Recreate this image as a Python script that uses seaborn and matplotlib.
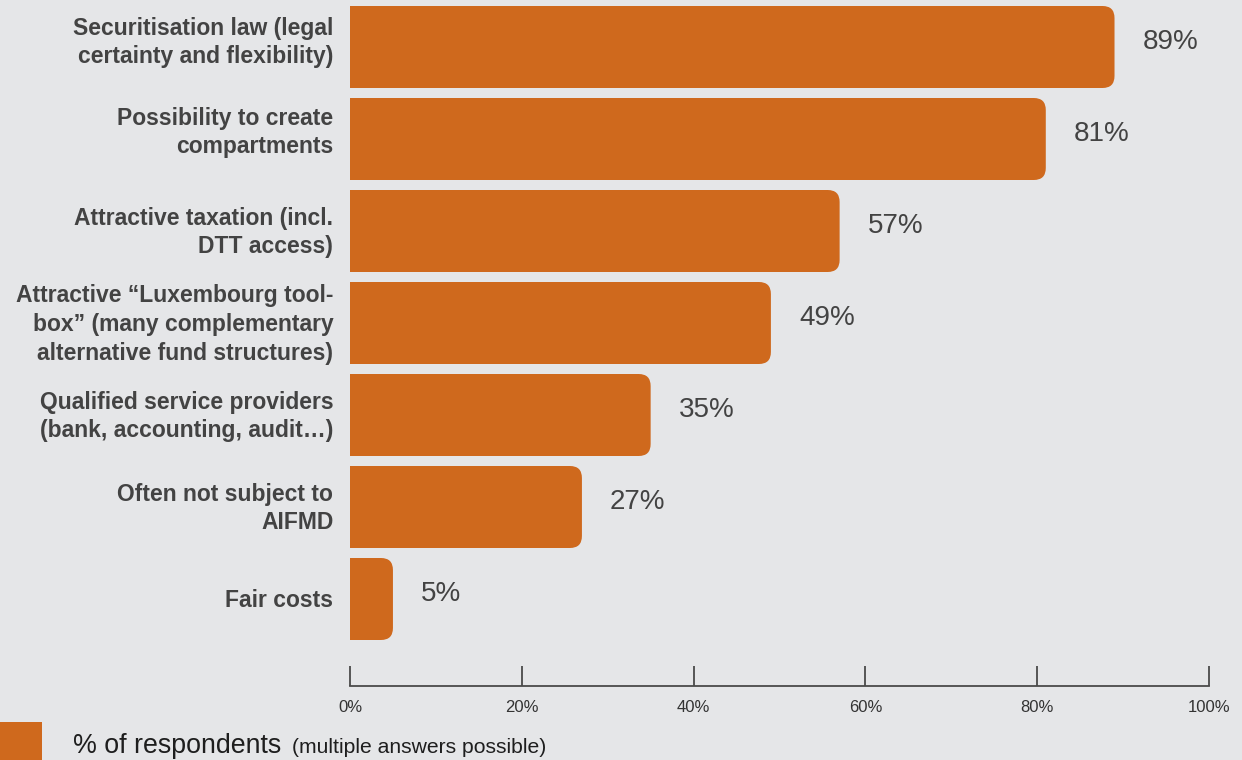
import matplotlib
matplotlib.use("Agg")
import matplotlib.pyplot as plt
import matplotlib.transforms as mtransforms
import seaborn as sns
import pandas as pd
from matplotlib.patches import FancyBboxPatch, Rectangle

categories = [
    "Securitisation law (legal\ncertainty and flexibility)",
    "Possibility to create\ncompartments",
    "Attractive taxation (incl.\nDTT access)",
    "Attractive \u201cLuxembourg tool-\nbox\u201d (many complementary\nalternative fund structures)",
    "Qualified service providers\n(bank, accounting, audit\u2026)",
    "Often not subject to\nAIFMD",
    "Fair costs",
]
values = [89, 81, 57, 49, 35, 27, 5]
tick_values = [0, 20, 40, 60, 80, 100]
tick_labels = ["0%", "20%", "40%", "60%", "80%", "100%"]

BG = "#e5e6e8"
BAR = "#cf691d"
TXT = "#434343"

sns.set_theme(style="white")
plt.rcParams["font.family"] = ["Liberation Sans", "DejaVu Sans"]

W, H = 1242, 760
fig = plt.figure(figsize=(W / 100, H / 100), dpi=100, facecolor=BG)
ax = fig.add_axes([350 / W, (H - 686) / H, 859 / W, 686 / H])
ax.set_facecolor(BG)

df = pd.DataFrame({"cat": categories, "val": values})
sns.barplot(data=df, x="val", y="cat", orient="h", color=BAR, width=82 / 92,
            saturation=1, ax=ax)

ax.set_xlim(0, 100)
ax.set_ylim(639 / 92, -47 / 92)

# rounded right corners
xpp = 100 / 859
ypp = 1 / 92
r_px = 12
for p in list(ax.patches):
    x0, y0 = p.get_x(), p.get_y()
    w, h = p.get_width(), p.get_height()
    p.set_visible(False)
    fb = FancyBboxPatch((x0 - 3, y0), w + 3, h,
                        boxstyle=f"round,pad=0,rounding_size={r_px * xpp}",
                        mutation_aspect=ypp / xpp,
                        facecolor=BAR, edgecolor="none", clip_on=True)
    ax.add_patch(fb)

for i, v in enumerate(values):
    ax.text(v + 28 * xpp, i - 5 * ypp, f"{v}%", va="center", ha="left",
            fontsize=20, color=TXT)

ax.set_xlabel("")
ax.set_ylabel("")
ax.set_xticks(tick_values)
ax.set_xticklabels(tick_labels)
ax.tick_params(axis="x", direction="in", length=14.4, width=1.3, color="#4a4a4a",
               labelsize=12, labelcolor="#333333", pad=10, bottom=True)
ax.tick_params(axis="y", length=0, pad=12, labelsize=16.5, labelcolor=TXT)
label_dy_px = [10, 12, 4, 4, 4, 4, 1]
for lab, dy in zip(ax.get_yticklabels(), label_dy_px):
    lab.set_fontweight("bold")
    lab.set_linespacing(1.32)
    lab.set_transform(lab.get_transform() +
                      mtransforms.ScaledTranslation(0, dy / 100, fig.dpi_scale_trans))
for s in ["top", "right", "left"]:
    ax.spines[s].set_visible(False)
ax.spines["bottom"].set_color("#4a4a4a")
ax.spines["bottom"].set_linewidth(1.3)

# legend
fig.patches.append(Rectangle((0, 0), 42 / W, 38 / H, transform=fig.transFigure,
                             facecolor=BAR, edgecolor="none"))
fig.text(73 / W, (H - 753) / H, "% of respondents", fontsize=19.3, color="#1e1e1e",
         va="baseline", ha="left")
fig.text(292 / W, (H - 753) / H, "(multiple answers possible)", fontsize=15.2,
         color="#1e1e1e", va="baseline", ha="left")

fig.savefig("out.png", dpi=100, facecolor=BG)
